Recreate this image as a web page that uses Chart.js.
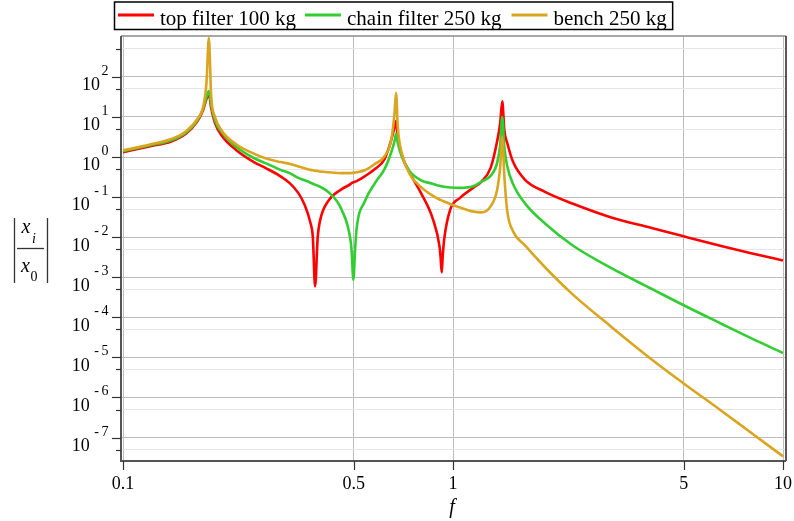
<!DOCTYPE html>
<html><head><meta charset="utf-8">
<script src="https://cdn.jsdelivr.net/npm/chart.js@4/dist/chart.umd.min.js"></script>
<style>html,body{margin:0;padding:0;background:#fff;}#wrap{width:794px;height:521px;position:relative;}</style>
</head><body><div id="wrap"><canvas id="c" width="794" height="521"></canvas></div>
<script>
const freq = [0.1,0.12,0.14,0.155,0.168,0.175,0.179,0.182,0.185,0.19,0.2,0.22,0.25,0.27,0.3,0.32,0.34,0.355,0.37,0.376,0.382,0.389,0.395,0.42,0.46,0.49,0.493,0.499,0.505,0.51,0.54,0.58,0.62,0.65,0.665,0.672,0.68,0.7,0.74,0.8,0.87,0.91,0.917,0.924,0.931,0.94,0.98,1.05,1.15,1.22,1.3,1.36,1.39,1.41,1.43,1.46,1.52,1.65,1.9,2.3,3,4,5,6.5,8,10];
const topFilter = [1.32,1.84,2.45,3.80,7.76,15.1,28.2,38.0,17.0,7.08,3.24,1.51,0.741,0.537,0.331,0.224,0.126,0.0646,0.0224,0.0100,0.000589,0.0100,0.0251,0.0832,0.158,0.214,0.225,0.234,0.243,0.251,0.331,0.501,0.891,2.69,5.62,7.94,3.16,1.12,0.398,0.126,0.0275,0.00589,0.00316,0.00132,0.00355,0.00871,0.0479,0.0955,0.170,0.245,0.537,2.45,7.08,24.5,4.79,2.24,0.759,0.275,0.135,0.0692,0.0316,0.0170,0.0105,0.00603,0.00398,0.00263];
const chainFilter = [1.40,1.95,2.63,4.07,8.32,16.6,31.6,44.7,20.4,8.13,3.98,1.82,0.933,0.708,0.479,0.398,0.302,0.263,0.229,0.215,0.204,0.193,0.182,0.132,0.0479,0.00759,0.00437,0.000871,0.00501,0.0155,0.0776,0.224,0.501,1.32,2.51,3.80,2.24,1.0,0.437,0.263,0.214,0.191,0.188,0.186,0.184,0.182,0.174,0.170,0.186,0.245,0.339,0.708,2.04,10.0,1.82,0.589,0.214,0.0708,0.0219,0.00631,0.00174,0.000513,0.000200,0.0000692,0.0000302,0.0000129];
const bench = [1.48,2.04,2.82,4.37,8.91,18.2,70.8,933,32.4,10.0,4.37,2.09,1.20,0.933,0.750,0.676,0.582,0.525,0.479,0.468,0.457,0.447,0.437,0.417,0.398,0.398,0.400,0.407,0.412,0.417,0.468,0.676,1.05,2.69,12.6,39.8,5.75,1.20,0.372,0.178,0.107,0.0871,0.0851,0.0832,0.0805,0.0776,0.0676,0.0550,0.0437,0.0417,0.0589,0.151,0.589,3.16,0.355,0.0447,0.0141,0.00631,0.00178,0.000380,0.0000603,0.00000891,0.00000224,0.000000468,0.000000132,0.0000000339];
const seriesNames = ['top filter 100 kg','chain filter 250 kg','bench 250 kg'];
const seriesColors = ['#ff0000','#32cd32','#daa520'];
const xTickValues = [0.1,0.5,1,5,10];
const xTickLabels = ['0.1','0.5','1','5','10'];
const yExponents = [-7,-6,-5,-4,-3,-2,-1,0,1,2];
const yMinorTicks = [5e-8,5e-7,5e-6,5e-5,5e-4,5e-3,5e-2,0.5,5,50,500];

const SERIF = '"Liberation Serif","Times New Roman",serif';
const toPts = arr => freq.map((f,i)=>({x:f,y:arr[i]}));
const isMajor = v => Math.abs(Math.log10(v) - Math.round(Math.log10(v))) < 1e-6;

const deco = {
  id:'deco',
  afterDraw(chart){
    const ctx = chart.ctx, a = chart.chartArea;
    const xs = chart.scales.x, ys = chart.scales.y;
    ctx.save();
    ctx.strokeStyle = '#8a8a8a'; ctx.lineWidth = 1.5;
    ctx.beginPath(); ctx.moveTo(a.left, a.top); ctx.lineTo(a.right, a.top); ctx.stroke();
    ctx.strokeStyle = '#222'; ctx.lineWidth = 1.5;
    ctx.beginPath(); ctx.moveTo(a.right, a.top); ctx.lineTo(a.right, a.bottom); ctx.stroke();
    ctx.strokeStyle = '#555'; ctx.lineWidth = 2;
    ctx.beginPath(); ctx.moveTo(a.left, a.top); ctx.lineTo(a.left, a.bottom); ctx.lineTo(a.right, a.bottom); ctx.stroke();
    ctx.strokeStyle = '#333'; ctx.lineWidth = 1.2;
    yExponents.forEach(e=>{ const y = Math.round(ys.getPixelForValue(Math.pow(10,e)))+0.5;
      ctx.beginPath(); ctx.moveTo(a.left-9, y); ctx.lineTo(a.left, y); ctx.stroke(); });
    yMinorTicks.forEach(v=>{ const y = Math.round(ys.getPixelForValue(v))+0.5;
      ctx.beginPath(); ctx.moveTo(a.left-5, y); ctx.lineTo(a.left, y); ctx.stroke(); });
    xTickValues.forEach(v=>{ const x = Math.round(xs.getPixelForValue(v))+0.5;
      ctx.beginPath(); ctx.moveTo(x, a.bottom); ctx.lineTo(x, a.bottom+9); ctx.stroke(); });
    ctx.fillStyle = '#000';
    yExponents.forEach(e=>{
      const y = ys.getPixelForValue(Math.pow(10,e));
      const right = 108.5;
      ctx.textAlign = 'right'; ctx.textBaseline = 'alphabetic';
      ctx.font = '14px ' + SERIF;
      const digits = String(Math.abs(e));
      ctx.fillText(digits, right, y - 2);
      let left = right - ctx.measureText(digits).width;
      if (e < 0) { ctx.fillText('-', left - 2.5, y - 2); left = left - 2.5 - ctx.measureText('-').width; }
      ctx.font = '18px ' + SERIF;
      ctx.fillText('10', left - (e < 0 ? 4.5 : 1.5), y + 13.3);
    });
    ctx.textAlign = 'center'; ctx.font = '18px ' + SERIF;
    xTickValues.forEach((v,i)=>{ ctx.fillText(xTickLabels[i], xs.getPixelForValue(v), 489); });
    ctx.font = 'italic 20px ' + SERIF;
    ctx.fillText('f', 452, 513);
    ctx.strokeStyle = '#333'; ctx.lineWidth = 1.3;
    ctx.beginPath(); ctx.moveTo(14.5, 218); ctx.lineTo(14.5, 283); ctx.moveTo(47.5, 218); ctx.lineTo(47.5, 283); ctx.stroke();
    ctx.beginPath(); ctx.moveTo(17, 248.5); ctx.lineTo(44, 248.5); ctx.stroke();
    ctx.textAlign = 'left';
    ctx.font = 'italic 20px ' + SERIF;
    ctx.fillText('x', 21.5, 232.5);
    ctx.fillText('x', 21, 272);
    ctx.font = 'italic 14px ' + SERIF;
    ctx.fillText('i', 32, 243);
    ctx.font = '14px ' + SERIF;
    ctx.fillText('0', 30.5, 281);
    const lx = [118, 305, 511.5];
    ctx.font = '21px ' + SERIF;
    let endX = 0;
    seriesNames.forEach((n,i)=>{
      ctx.strokeStyle = seriesColors[i]; ctx.lineWidth = 3;
      ctx.beginPath(); ctx.moveTo(lx[i], 15); ctx.lineTo(lx[i]+36, 15); ctx.stroke();
      ctx.fillStyle = '#000';
      ctx.fillText(n, lx[i]+42, 25);
      endX = lx[i]+42+ctx.measureText(n).width;
    });
    ctx.strokeStyle = '#000'; ctx.lineWidth = 1.5;
    ctx.strokeRect(114.5, 2, endX + 6 - 114.5, 27.5);
    ctx.restore();
  }
};

const ds = (i, arr, order) => ({label:seriesNames[i], data:toPts(arr), borderColor:seriesColors[i], borderWidth:2.6, pointRadius:0, fill:false, cubicInterpolationMode:'monotone', order});

new Chart(document.getElementById('c'), {
  type:'line',
  data:{ datasets:[ ds(0, topFilter, 2), ds(1, chainFilter, 1), ds(2, bench, 0) ]},
  options:{
    responsive:false, animation:false, devicePixelRatio:1,
    layout:{padding:{left:121, right:8, top:36, bottom:60}},
    plugins:{legend:{display:false}, tooltip:{enabled:false}},
    scales:{
      x:{type:'logarithmic', min:0.0986, max:10.21,
        afterBuildTicks:s=>{ s.ticks = xTickValues.map(v=>({value:v})); },
        afterFit:s=>{ s.height = 0; },
        ticks:{display:false}, border:{display:false},
        grid:{color:'#bdbdbd', lineWidth:1, drawTicks:false}},
      y:{type:'logarithmic', min:2.6e-8, max:1050,
        afterBuildTicks:s=>{ const t=[]; yExponents.forEach(e=>t.push({value:Math.pow(10,e)})); yMinorTicks.forEach(v=>t.push({value:v})); t.sort((p,q)=>p.value-q.value); s.ticks=t; },
        afterFit:s=>{ s.width = 0; },
        ticks:{display:false}, border:{display:false},
        grid:{color:c=> (c.tick && isMajor(c.tick.value)) ? '#bdbdbd' : '#e6e6e6', lineWidth:1, drawTicks:false}}
    }
  },
  plugins:[deco]
});
</script></body></html>
